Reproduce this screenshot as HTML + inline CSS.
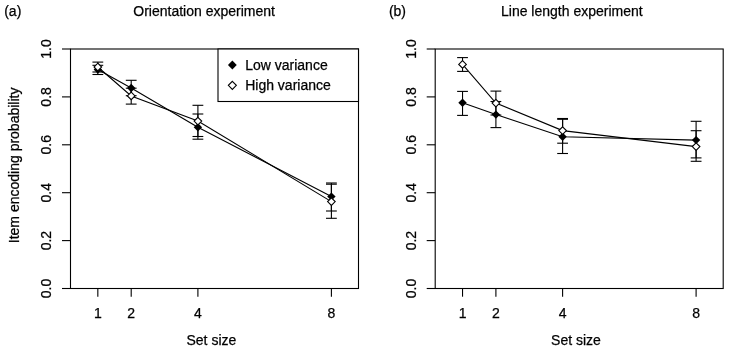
<!DOCTYPE html>
<html><head><meta charset="utf-8"><style>
html,body{margin:0;padding:0;background:#fff;}
svg{display:block;will-change:transform;}
.t{font-family:"Liberation Sans",sans-serif;font-size:14px;fill:#000;stroke:#000;stroke-width:0.25px;}
</style></head><body>
<svg width="729" height="350" viewBox="0 0 729 350">
<rect x="70.5" y="49.0" width="288.0" height="239.5" fill="none" stroke="#000" stroke-width="1.1"/>
<line x1="62" y1="288.5" x2="70.5" y2="288.5" stroke="#000" stroke-width="1.1"/>
<text transform="translate(51.3,288.5) rotate(-90)" text-anchor="middle" class="t">0.0</text>
<line x1="62" y1="240.6" x2="70.5" y2="240.6" stroke="#000" stroke-width="1.1"/>
<text transform="translate(51.3,240.6) rotate(-90)" text-anchor="middle" class="t">0.2</text>
<line x1="62" y1="192.7" x2="70.5" y2="192.7" stroke="#000" stroke-width="1.1"/>
<text transform="translate(51.3,192.7) rotate(-90)" text-anchor="middle" class="t">0.4</text>
<line x1="62" y1="144.8" x2="70.5" y2="144.8" stroke="#000" stroke-width="1.1"/>
<text transform="translate(51.3,144.8) rotate(-90)" text-anchor="middle" class="t">0.6</text>
<line x1="62" y1="96.89999999999998" x2="70.5" y2="96.89999999999998" stroke="#000" stroke-width="1.1"/>
<text transform="translate(51.3,96.89999999999998) rotate(-90)" text-anchor="middle" class="t">0.8</text>
<line x1="62" y1="49.0" x2="70.5" y2="49.0" stroke="#000" stroke-width="1.1"/>
<text transform="translate(51.3,49.0) rotate(-90)" text-anchor="middle" class="t">1.0</text>
<line x1="97.83" y1="288.5" x2="97.83" y2="296.7" stroke="#000" stroke-width="1.1"/>
<text x="97.83" y="317.8" text-anchor="middle" class="t">1</text>
<line x1="131.2" y1="288.5" x2="131.2" y2="296.7" stroke="#000" stroke-width="1.1"/>
<text x="131.2" y="317.8" text-anchor="middle" class="t">2</text>
<line x1="197.9" y1="288.5" x2="197.9" y2="296.7" stroke="#000" stroke-width="1.1"/>
<text x="197.9" y="317.8" text-anchor="middle" class="t">4</text>
<line x1="331.4" y1="288.5" x2="331.4" y2="296.7" stroke="#000" stroke-width="1.1"/>
<text x="331.4" y="317.8" text-anchor="middle" class="t">8</text>
<text x="186.5" y="344.6" class="t">Set size</text>
<text x="133.3" y="15.5" class="t">Orientation experiment</text>
<text x="4.2" y="15.5" class="t">(a)</text>
<text transform="translate(18.8,243.2) rotate(-90)" class="t">Item encoding probability</text>
<polyline fill="none" stroke="#000" stroke-width="1.1" points="97.83,69.6 131.2,88.0 197.9,127.3 331.4,196.6"/>
<polyline fill="none" stroke="#000" stroke-width="1.1" points="97.83,67.0 131.2,95.9 197.9,121.1 331.4,201.6"/>
<line x1="97.83" y1="65.3" x2="97.83" y2="74.5" stroke="#000" stroke-width="1.1"/>
<line x1="92.42999999999999" y1="65.3" x2="103.23" y2="65.3" stroke="#000" stroke-width="1.1"/>
<line x1="92.42999999999999" y1="74.5" x2="103.23" y2="74.5" stroke="#000" stroke-width="1.1"/>
<line x1="97.83" y1="62.1" x2="97.83" y2="72.0" stroke="#000" stroke-width="1.1"/>
<line x1="92.42999999999999" y1="62.1" x2="103.23" y2="62.1" stroke="#000" stroke-width="1.1"/>
<line x1="92.42999999999999" y1="72.0" x2="103.23" y2="72.0" stroke="#000" stroke-width="1.1"/>
<line x1="131.2" y1="80.3" x2="131.2" y2="95.7" stroke="#000" stroke-width="1.1"/>
<line x1="125.79999999999998" y1="80.3" x2="136.6" y2="80.3" stroke="#000" stroke-width="1.1"/>
<line x1="125.79999999999998" y1="95.7" x2="136.6" y2="95.7" stroke="#000" stroke-width="1.1"/>
<line x1="131.2" y1="88.2" x2="131.2" y2="104.1" stroke="#000" stroke-width="1.1"/>
<line x1="125.79999999999998" y1="88.2" x2="136.6" y2="88.2" stroke="#000" stroke-width="1.1"/>
<line x1="125.79999999999998" y1="104.1" x2="136.6" y2="104.1" stroke="#000" stroke-width="1.1"/>
<line x1="197.9" y1="114.0" x2="197.9" y2="139.2" stroke="#000" stroke-width="1.1"/>
<line x1="192.5" y1="114.0" x2="203.3" y2="114.0" stroke="#000" stroke-width="1.1"/>
<line x1="192.5" y1="139.2" x2="203.3" y2="139.2" stroke="#000" stroke-width="1.1"/>
<line x1="197.9" y1="105.3" x2="197.9" y2="136.5" stroke="#000" stroke-width="1.1"/>
<line x1="192.5" y1="105.3" x2="203.3" y2="105.3" stroke="#000" stroke-width="1.1"/>
<line x1="192.5" y1="136.5" x2="203.3" y2="136.5" stroke="#000" stroke-width="1.1"/>
<line x1="331.4" y1="183.0" x2="331.4" y2="211.0" stroke="#000" stroke-width="1.1"/>
<line x1="326.0" y1="183.0" x2="336.79999999999995" y2="183.0" stroke="#000" stroke-width="1.1"/>
<line x1="326.0" y1="211.0" x2="336.79999999999995" y2="211.0" stroke="#000" stroke-width="1.1"/>
<line x1="331.4" y1="184.2" x2="331.4" y2="218.3" stroke="#000" stroke-width="1.1"/>
<line x1="326.0" y1="184.2" x2="336.79999999999995" y2="184.2" stroke="#000" stroke-width="1.1"/>
<line x1="326.0" y1="218.3" x2="336.79999999999995" y2="218.3" stroke="#000" stroke-width="1.1"/>
<path d="M97.83,65.39999999999999L102.03,69.6L97.83,73.8L93.63,69.6Z" fill="#000"/>
<path d="M131.2,83.8L135.39999999999998,88.0L131.2,92.2L126.99999999999999,88.0Z" fill="#000"/>
<path d="M197.9,123.1L202.1,127.3L197.9,131.5L193.70000000000002,127.3Z" fill="#000"/>
<path d="M331.4,192.4L335.59999999999997,196.6L331.4,200.79999999999998L327.2,196.6Z" fill="#000"/>
<path d="M97.83,63.2L101.63,67.0L97.83,70.8L94.03,67.0Z" fill="#fff" stroke="#000" stroke-width="1.1"/>
<path d="M131.2,92.10000000000001L135.0,95.9L131.2,99.7L127.39999999999999,95.9Z" fill="#fff" stroke="#000" stroke-width="1.1"/>
<path d="M197.9,117.3L201.70000000000002,121.1L197.9,124.89999999999999L194.1,121.1Z" fill="#fff" stroke="#000" stroke-width="1.1"/>
<path d="M331.4,197.79999999999998L335.2,201.6L331.4,205.4L327.59999999999997,201.6Z" fill="#fff" stroke="#000" stroke-width="1.1"/>
<rect x="218" y="49.0" width="140.5" height="52.5" fill="#fff" stroke="#000" stroke-width="1.1"/>
<path d="M232.35,60.6L236.75,65.0L232.35,69.4L227.95,65.0Z" fill="#000"/>
<path d="M232.35,81.35L236.35,85.35L232.35,89.35L228.35,85.35Z" fill="#fff" stroke="#000" stroke-width="1.1"/>
<text x="245.2" y="69.8" class="t">Low variance</text>
<text x="245.2" y="90" class="t">High variance</text>
<rect x="435.2" y="49.0" width="288.00000000000006" height="239.5" fill="none" stroke="#000" stroke-width="1.1"/>
<line x1="426.7" y1="288.5" x2="435.2" y2="288.5" stroke="#000" stroke-width="1.1"/>
<text transform="translate(416.0,288.5) rotate(-90)" text-anchor="middle" class="t">0.0</text>
<line x1="426.7" y1="240.6" x2="435.2" y2="240.6" stroke="#000" stroke-width="1.1"/>
<text transform="translate(416.0,240.6) rotate(-90)" text-anchor="middle" class="t">0.2</text>
<line x1="426.7" y1="192.7" x2="435.2" y2="192.7" stroke="#000" stroke-width="1.1"/>
<text transform="translate(416.0,192.7) rotate(-90)" text-anchor="middle" class="t">0.4</text>
<line x1="426.7" y1="144.8" x2="435.2" y2="144.8" stroke="#000" stroke-width="1.1"/>
<text transform="translate(416.0,144.8) rotate(-90)" text-anchor="middle" class="t">0.6</text>
<line x1="426.7" y1="96.89999999999998" x2="435.2" y2="96.89999999999998" stroke="#000" stroke-width="1.1"/>
<text transform="translate(416.0,96.89999999999998) rotate(-90)" text-anchor="middle" class="t">0.8</text>
<line x1="426.7" y1="49.0" x2="435.2" y2="49.0" stroke="#000" stroke-width="1.1"/>
<text transform="translate(416.0,49.0) rotate(-90)" text-anchor="middle" class="t">1.0</text>
<line x1="462.53" y1="288.5" x2="462.53" y2="296.7" stroke="#000" stroke-width="1.1"/>
<text x="462.53" y="317.8" text-anchor="middle" class="t">1</text>
<line x1="495.9" y1="288.5" x2="495.9" y2="296.7" stroke="#000" stroke-width="1.1"/>
<text x="495.9" y="317.8" text-anchor="middle" class="t">2</text>
<line x1="562.6" y1="288.5" x2="562.6" y2="296.7" stroke="#000" stroke-width="1.1"/>
<text x="562.6" y="317.8" text-anchor="middle" class="t">4</text>
<line x1="696.0999999999999" y1="288.5" x2="696.0999999999999" y2="296.7" stroke="#000" stroke-width="1.1"/>
<text x="696.0999999999999" y="317.8" text-anchor="middle" class="t">8</text>
<text x="551.1" y="344.6" class="t">Set size</text>
<text x="501.0" y="15.5" class="t">Line length experiment</text>
<text x="388.9" y="15.5" class="t">(b)</text>
<polyline fill="none" stroke="#000" stroke-width="1.1" points="462.53,102.7 495.9,114.6 562.6,136.7 696.0999999999999,140.1"/>
<polyline fill="none" stroke="#000" stroke-width="1.1" points="462.53,64.4 495.9,103.1 562.6,130.6 696.0999999999999,146.6"/>
<line x1="462.53" y1="91.4" x2="462.53" y2="115.4" stroke="#000" stroke-width="1.1"/>
<line x1="457.13" y1="91.4" x2="467.92999999999995" y2="91.4" stroke="#000" stroke-width="1.1"/>
<line x1="457.13" y1="115.4" x2="467.92999999999995" y2="115.4" stroke="#000" stroke-width="1.1"/>
<line x1="462.53" y1="57.6" x2="462.53" y2="71.4" stroke="#000" stroke-width="1.1"/>
<line x1="457.13" y1="57.6" x2="467.92999999999995" y2="57.6" stroke="#000" stroke-width="1.1"/>
<line x1="457.13" y1="71.4" x2="467.92999999999995" y2="71.4" stroke="#000" stroke-width="1.1"/>
<line x1="495.9" y1="101.5" x2="495.9" y2="127.6" stroke="#000" stroke-width="1.1"/>
<line x1="490.5" y1="101.5" x2="501.29999999999995" y2="101.5" stroke="#000" stroke-width="1.1"/>
<line x1="490.5" y1="127.6" x2="501.29999999999995" y2="127.6" stroke="#000" stroke-width="1.1"/>
<line x1="495.9" y1="91.1" x2="495.9" y2="115.0" stroke="#000" stroke-width="1.1"/>
<line x1="490.5" y1="91.1" x2="501.29999999999995" y2="91.1" stroke="#000" stroke-width="1.1"/>
<line x1="490.5" y1="115.0" x2="501.29999999999995" y2="115.0" stroke="#000" stroke-width="1.1"/>
<line x1="562.6" y1="119.3" x2="562.6" y2="153.5" stroke="#000" stroke-width="1.1"/>
<line x1="557.2" y1="119.3" x2="568.0" y2="119.3" stroke="#000" stroke-width="1.1"/>
<line x1="557.2" y1="153.5" x2="568.0" y2="153.5" stroke="#000" stroke-width="1.1"/>
<line x1="562.6" y1="118.5" x2="562.6" y2="143.2" stroke="#000" stroke-width="1.1"/>
<line x1="557.2" y1="118.5" x2="568.0" y2="118.5" stroke="#000" stroke-width="1.1"/>
<line x1="557.2" y1="143.2" x2="568.0" y2="143.2" stroke="#000" stroke-width="1.1"/>
<line x1="696.0999999999999" y1="121.3" x2="696.0999999999999" y2="157.9" stroke="#000" stroke-width="1.1"/>
<line x1="690.6999999999999" y1="121.3" x2="701.4999999999999" y2="121.3" stroke="#000" stroke-width="1.1"/>
<line x1="690.6999999999999" y1="157.9" x2="701.4999999999999" y2="157.9" stroke="#000" stroke-width="1.1"/>
<line x1="696.0999999999999" y1="130.7" x2="696.0999999999999" y2="161.3" stroke="#000" stroke-width="1.1"/>
<line x1="690.6999999999999" y1="130.7" x2="701.4999999999999" y2="130.7" stroke="#000" stroke-width="1.1"/>
<line x1="690.6999999999999" y1="161.3" x2="701.4999999999999" y2="161.3" stroke="#000" stroke-width="1.1"/>
<path d="M462.53,98.5L466.72999999999996,102.7L462.53,106.9L458.33,102.7Z" fill="#000"/>
<path d="M495.9,110.39999999999999L500.09999999999997,114.6L495.9,118.8L491.7,114.6Z" fill="#000"/>
<path d="M562.6,132.5L566.8000000000001,136.7L562.6,140.89999999999998L558.4,136.7Z" fill="#000"/>
<path d="M696.0999999999999,135.9L700.3,140.1L696.0999999999999,144.29999999999998L691.8999999999999,140.1Z" fill="#000"/>
<path d="M462.53,60.60000000000001L466.33,64.4L462.53,68.2L458.72999999999996,64.4Z" fill="#fff" stroke="#000" stroke-width="1.1"/>
<path d="M495.9,99.3L499.7,103.1L495.9,106.89999999999999L492.09999999999997,103.1Z" fill="#fff" stroke="#000" stroke-width="1.1"/>
<path d="M562.6,126.8L566.4,130.6L562.6,134.4L558.8000000000001,130.6Z" fill="#fff" stroke="#000" stroke-width="1.1"/>
<path d="M696.0999999999999,142.79999999999998L699.8999999999999,146.6L696.0999999999999,150.4L692.3,146.6Z" fill="#fff" stroke="#000" stroke-width="1.1"/>
</svg>
</body></html>
